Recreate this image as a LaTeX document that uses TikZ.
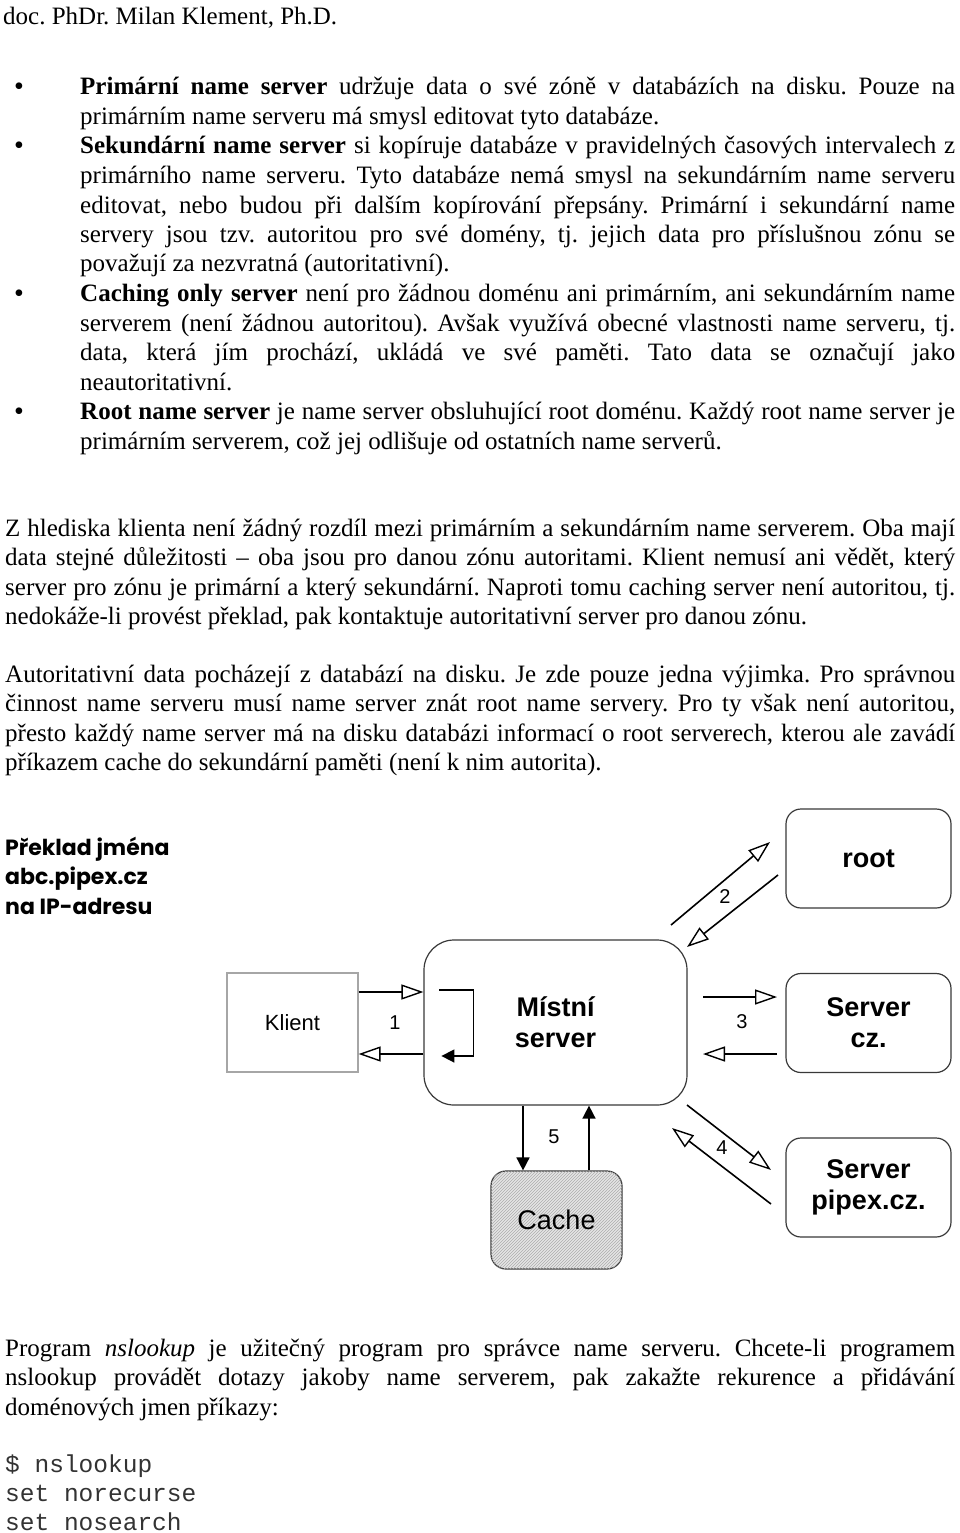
\documentclass[tikz,border=0pt]{standalone}
\usepackage{fontspec}
\setmainfont{Liberation Serif}
\setmonofont{Liberation Mono}
\newfontfamily\arialf{Liberation Sans}
\newfontfamily\futf{Poppins}
\usetikzlibrary{arrows.meta,patterns,calc}
\newcommand{\bodyfont}{\fontsize{25pt}{29.5pt}\selectfont}
\newdimen\lw
\newcommand{\J}[1]{\hbox to\lw{#1}}
\newcommand{\N}[1]{\hbox{#1}}
\newcommand{\blk}[2]{\vtop{\lw=#1\bodyfont\frenchspacing #2}}
\newcommand{\lblb}{\arialf\bfseries\fontsize{27pt}{31pt}\selectfont}
\newcommand{\lblr}{\arialf\fontsize{27pt}{31pt}\selectfont}
\newcommand{\numf}{\arialf\fontsize{20pt}{22pt}\selectfont}
\tikzset{
  txt/.style={anchor=base west, inner sep=0pt, font=\bodyfont\frenchspacing},
  bul/.style={anchor=base west, inner sep=0pt, font=\fontsize{28pt}{28pt}\selectfont},
  box/.style={draw=gray!45!black, line width=1.2pt, minimum width=165pt, minimum height=99pt, inner sep=0pt, align=center},
  openarrow/.style={line width=1.6pt, -{Triangle[open, length=22pt, width=15pt, line width=1.4pt]}},
  fillarrow/.style={line width=1.6pt, -{Triangle[length=13pt, width=13pt]}},
  numlbl/.style={inner sep=0pt, font=\numf},
}
\begin{document}
\begin{tikzpicture}[x=1pt,y=-1pt]
\fill[white] (0,0) rectangle (960,1533);
\useasboundingbox (0,0) rectangle (960,1533);

% header
\node[txt] (hdr) at (3,25) {doc. PhDr. Milan Klement, Ph.D.};

% bullets
\node[bul] (b1) at (14,96) {\textbullet};
\node[bul] (b2) at (14,155) {\textbullet};
\node[bul] (b3) at (14,302.5) {\textbullet};
\node[bul] (b4) at (14,420.5) {\textbullet};

\node[txt] (p1) at (80,95) {\blk{875pt}{
\J{\textbf{Primární name server} udržuje data o své zóně v databázích na disku. Pouze na}
\N{primárním name serveru má smysl editovat tyto databáze.}}};

\node[txt] (p2) at (80,154) {\blk{875pt}{
\J{\textbf{Sekundární name server} si kopíruje databáze v pravidelných časových intervalech z}
\J{primárního name serveru. Tyto databáze nemá smysl na sekundárním name serveru}
\J{editovat, nebo budou při dalším kopírování přepsány. Primární i sekundární name}
\J{servery jsou tzv. autoritou pro své domény, tj. jejich data pro příslušnou zónu se}
\N{považují za nezvratná (autoritativní).}}};

\node[txt] (p3) at (80,301.5) {\blk{875pt}{
\J{\textbf{Caching only server} není pro žádnou doménu ani primárním, ani sekundárním name}
\J{serverem (není žádnou autoritou). Avšak využívá obecné vlastnosti name serveru, tj.}
\J{data, která jím prochází, ukládá ve své paměti. Tato data se označují jako}
\N{neautoritativní.}}};

\node[txt] (p4) at (80,419.5) {\blk{875pt}{
\J{\textbf{Root name server} je name server obsluhující root doménu. Každý root name server je}
\N{primárním serverem, což jej odlišuje od ostatních name serverů.}}};

\node[txt] (p5) at (5,536) {\blk{950pt}{
\J{Z hlediska klienta není žádný rozdíl mezi primárním a sekundárním name serverem. Oba mají}
\J{data stejné důležitosti – oba jsou pro danou zónu autoritami. Klient nemusí ani vědět, který}
\J{server pro zónu je primární a který sekundární. Naproti tomu caching server není autoritou, tj.}
\N{nedokáže-li provést překlad, pak kontaktuje autoritativní server pro danou zónu.}}};

\node[txt] (p6) at (5,682) {\blk{950pt}{
\J{Autoritativní data pocházejí z databází na disku. Je zde pouze jedna výjimka. Pro správnou}
\J{činnost name serveru musí name server znát root name servery. Pro ty však není autoritou,}
\J{přesto každý name server má na disku databázi informací o root serverech, kterou ale zavádí}
\N{příkazem cache do sekundární paměti (není k nim autorita).}}};

\node[txt] (p7) at (5,1356) {\blk{950pt}{
\J{Program \textit{nslookup} je užitečný program pro správce name serveru. Chcete-li programem}
\J{nslookup provádět dotazy jakoby name serverem, pak zakažte rekurence a přidávání}
\N{doménových jmen příkazy:}}};

\node[txt, text=black!80] (code) at (5,1472) {\vtop{\ttfamily\fontsize{24.5pt}{29pt}\selectfont
\N{\$ nslookup}
\N{set norecurse}
\N{set nosearch}}};

% diagram title
\node[anchor=base west, inner sep=0pt] (title) at (5,855) {\vtop{\futf\bfseries\fontsize{22pt}{29.5pt}\selectfont
\N{Překlad jména}
\N{abc.pipex.cz}
\N{na IP-adresu}}};

% boxes
\node[box, draw=gray!70, minimum width=131pt, minimum height=99pt, font=\arialf\fontsize{22pt}{26pt}\selectfont] (klient) at (292.5,1022.5) {Klient};
\node[box, minimum width=263pt, minimum height=165pt, rounded corners=30pt, font=\lblb] (mistni) at (555.5,1022.5) {Místní\\server};
\node[box, rounded corners=15pt, font=\lblb] (root) at (868.5,858.5) {root};
\node[box, rounded corners=15pt, font=\lblb] (servercz) at (868.5,1023) {Server\\cz.};
\node[box, rounded corners=15pt, font=\lblb] (pipex) at (868.5,1187.5) {Server\\pipex.cz.};
\node[box, minimum width=131pt, minimum height=98pt, rounded corners=15pt, fill=gray!20,
      postaction={pattern=north east lines, pattern color=gray!65}, font=\lblr] (cache) at (556.5,1220) {Cache};

% arrows 1
\coordinate (k1) at ([yshift=30.5pt]klient.east);
\coordinate (m1) at (mistni.west |- k1);
\coordinate (k2) at ([yshift=-31.5pt]klient.east);
\coordinate (m2) at (mistni.west |- k2);
\draw[openarrow] (k1) -- (m1);
\draw[openarrow] (m2) -- (k2);
\node[numlbl] (n1) at (395,1023) {1};
% self loop
\draw[fillarrow] ($(mistni.west)+(16,-32.5)$) -- ++(34,0) -- ++(0,66) -- ++(-32,0);

% arrows 2
\coordinate (a2s) at (671,925); \coordinate (a2e) at (770,842);
\coordinate (b2s) at (778,875); \coordinate (b2e) at (687,947);
\draw[openarrow] (a2s) -- (a2e);
\draw[openarrow] (b2s) -- (b2e);
\node[numlbl] (n2) at (725,897) {2};

% arrows 3
\coordinate (a3s) at (703,997); \coordinate (a3e) at (777,997);
\coordinate (b3s) at (777,1054); \coordinate (b3e) at (703,1054);
\draw[openarrow] (a3s) -- (a3e);
\draw[openarrow] (b3s) -- (b3e);
\node[numlbl] (n3) at (742,1022) {3};

% arrows 4
\coordinate (a4s) at (687,1105); \coordinate (a4e) at (771,1170);
\coordinate (b4s) at (771,1204); \coordinate (b4e) at (672,1128);
\draw[openarrow] (a4s) -- (a4e);
\draw[openarrow] (b4s) -- (b4e);
\node[numlbl] (n4) at (722,1148) {4};

% arrows 5
\coordinate (c1) at ([xshift=-33.5pt]cache.north);
\coordinate (m5a) at (mistni.south -| c1);
\coordinate (c2) at ([xshift=32.5pt]cache.north);
\coordinate (m5b) at (mistni.south -| c2);
\draw[fillarrow] (m5a) -- (c1);
\draw[fillarrow] (c2) -- (m5b);
\node[numlbl] (n5) at (554,1137) {5};
\end{tikzpicture}
\end{document}
